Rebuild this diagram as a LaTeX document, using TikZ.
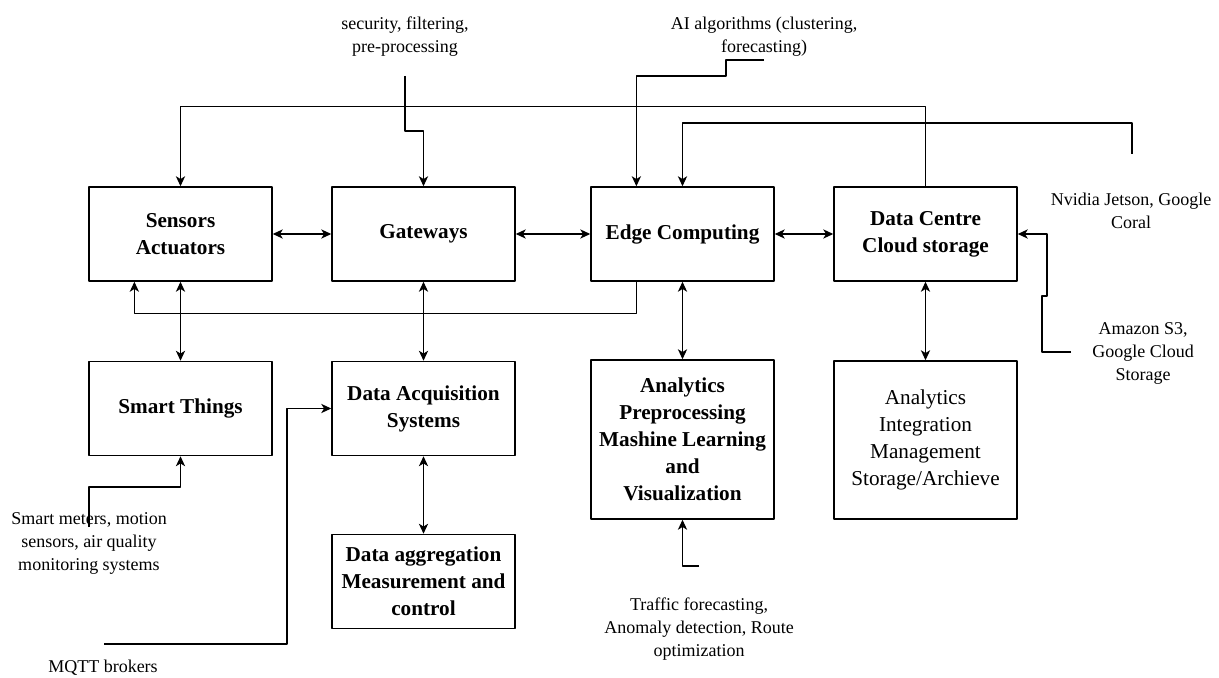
\documentclass[tikz,border=0pt]{standalone}
\usepackage{fontspec}
\setmainfont{Liberation Serif}
\usetikzlibrary{arrows.meta,calc}
\begin{document}
\begin{tikzpicture}[x=0.5pt,y=-0.5pt,>={Stealth[length=5pt,width=4.6pt,inset=1.4pt]},line join=round,
		blk/.style={draw,line width=0.75pt,minimum width=91.5pt,minimum height=47pt,align=center,inner sep=1pt,font=\fontsize{10.6}{13.5}\selectfont\bfseries},
		note/.style={align=center,inner sep=0pt,font=\fontsize{9}{11.5}\selectfont},
		lnk/.style={line width=0.6pt}]
			\useasboundingbox (0,0) rectangle (1219,678);
			% first row
			\node[blk] (sens) at (180.5,234) {Sensors\\Actuators};
			\node[blk] (gate) at (423.5,234) {Gateways};
			\node[blk] (edge) at (682.5,234) {Edge Computing};
			\node[blk] (dc) at (925.5,234) {Data Centre\\Cloud storage};
			% second row
			\node[blk] (smart) at (180.5,408.5) {Smart Things};
			\node[blk] (daq) at (423.5,408.5) {Data Acquisition\\Systems};
			\node[blk,minimum height=79.5pt] (anal) at (682.5,439.5) {Analytics\\Preprocessing\\Mashine Learning\\and\\Visualization};
			\node[blk,minimum height=79pt,font=\fontsize{10.6}{13.5}\selectfont] (integ) at (925.5,440) {Analytics\\Integration\\Management\\Storage/Archieve};
			\node[blk] (agg) at (423.5,581.5) {Data aggregation\\Measurement and\\control};
			% notes
			\node[note] (sec) at (405,36.5) {security, filtering,\\pre-processing};
			\node[note] (ai) at (764,36.5) {AI algorithms (clustering,\\forecasting)};
			\node[note] (nv) at (1131,211) {Nvidia Jetson, Google\\Coral};
			\node[note] (amz) at (1143,353) {Amazon S3,\\Google Cloud\\Storage};
			\node[note] (traf) at (699,629.5) {Traffic forecasting,\\Anomaly detection, Route\\optimization};
			\node[note] (smm) at (89,543) {Smart meters, motion\\sensors, air quality\\monitoring systems};
			\node[note] (mq) at (103,668) {MQTT brokers};
			\coordinate (secft) at (405,76);
			\coordinate (aift) at (764,60);
			\coordinate (nvtop) at (1132,154);
			\coordinate (amzft) at (1071,352);
			\coordinate (trft) at (699,566);
			\coordinate (smtop) at (89,527);
			\coordinate (mqft) at (104,644);
			% links between blocks
			\draw[lnk,<->] (sens) -- (gate);
			\draw[lnk,<->] (gate) -- (edge);
			\draw[lnk,<->] (edge) -- (dc);
			\draw[lnk,<->] (sens) -- (smart);
			\draw[lnk,<->] (gate) -- (daq);
			\draw[lnk,<->] (edge) -- (anal);
			\draw[lnk,<->] (dc) -- (integ);
			\draw[lnk,<->] (daq) -- (agg);
			\draw[lnk,->] (dc.north) -- ++(0,-80) -| (sens.north);
			\draw[lnk,->] ($(edge.south west)!.25!(edge.south east)$) -- ++(0,32) -| ($(sens.south west)!.25!(sens.south east)$);
			% links from notes
			\draw[lnk,->] (secft) -- ++(0,55) -| (gate.north);
			\draw[lnk,->] (aift) -- ++(-38,0) -- ++(0,16) -| ($(edge.north west)!.25!(edge.north east)$);
			\draw[lnk,->] (nvtop) -- ++(0,-31) -| (edge.north);
			\draw[lnk,->] (amzft) -- ++(-29,0) -- ++(0,-56) -- ++(5,0) |- (dc.east);
			\draw[lnk,->] (trft) -| (anal.south);
			\draw[lnk,->] (smtop) -- ++(0,-40) -| (smart.south);
			\draw[lnk,->] (mqft) -- ++(183,0) |- (daq.west);
		\end{tikzpicture}
\end{document}
